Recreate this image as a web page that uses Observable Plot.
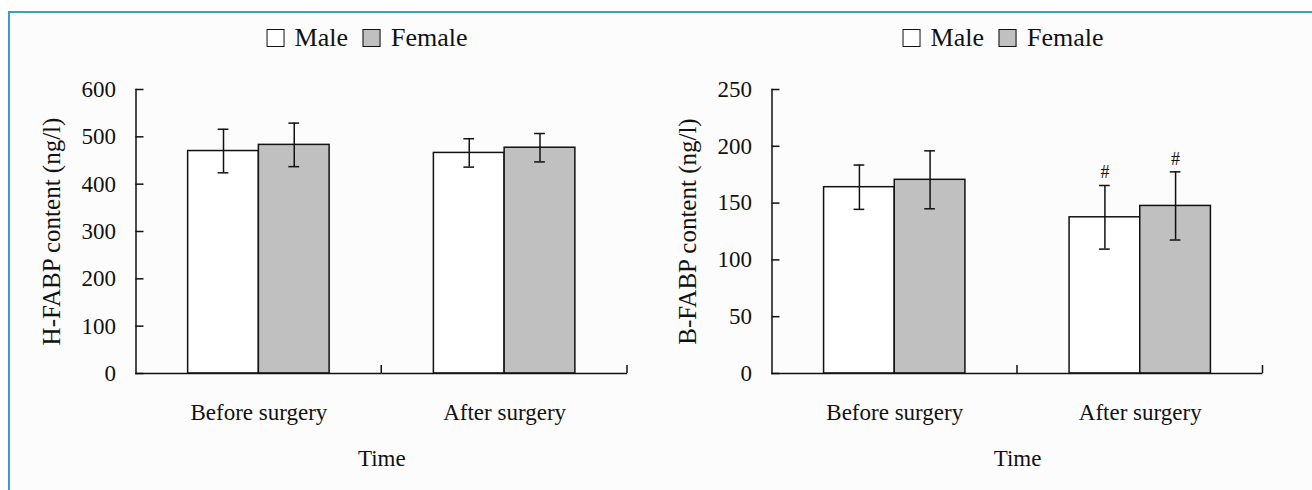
<!DOCTYPE html>
<html>
<head>
<meta charset="utf-8">
<script src="https://cdn.jsdelivr.net/npm/d3@7"></script>
<script src="https://cdn.jsdelivr.net/npm/@observablehq/plot@0.6"></script>
<style>
  html, body { margin: 0; padding: 0; background: #ffffff; }
  #page { position: relative; width: 1312px; height: 490px; overflow: hidden; background: #ffffff;
          font-family: "Liberation Serif", "Times New Roman", serif; color: #111; }
  #inner { position: absolute; left: 8px; top: 11px; right: 0; bottom: 0; background: #fcfcfc;
           border-top: 2px solid #3aa0c3; border-left: 2px solid #3aa0c3; }
  .panel { position: absolute; top: 0; width: 652px; height: 490px; }
  .legendbox { position: relative; height: 62px; }
  .legend { position: absolute; top: 23px; transform: translateX(-50%); white-space: nowrap;
            font-family: "Liberation Serif", "Times New Roman", serif;
            font-size: 26px; line-height: 30px; display: flex; align-items: center; }
  .sw { display: inline-block; box-sizing: border-box; width: 18px; height: 18px; border: 1.5px solid #111; margin-right: 10px; }
  .lab { margin-right: 15px; }
  .lab:last-child { margin-right: 0; }
  .panel svg { display: block; }
</style>
</head>
<body>
<div id="page">
  <div id="inner"></div>
  <div class="panel" id="left" style="left:0px"></div>
  <div class="panel" id="right" style="left:652px"></div>
</div>
<script>
// ---- data ----
const groups = ["Before surgery", "After surgery"];
const sexes = ["Male", "Female"];
const sexColors = ["#ffffff", "#c0c0c0"];

// order: Before-Male, Before-Female, After-Male, After-Female
const hMean = [470, 483, 466, 477];
const hErr  = [46, 46, 30, 30];
const hTicks = [0, 100, 200, 300, 400, 500, 600];

const bMean = [164, 170.5, 137.5, 147.5];
const bErr  = [19.5, 25.5, 28, 30];
const bSig  = ["", "", "#", "#"];
const bTicks = [0, 50, 100, 150, 200, 250];

function rowsOf(means, errs, sig) {
  const rows = [];
  groups.forEach((g, gi) => sexes.forEach((s, si) => {
    const i = gi * sexes.length + si;
    rows.push({group: g, sex: s, mean: means[i], lo: means[i] - errs[i], hi: means[i] + errs[i], sig: sig ? sig[i] : ""});
  }));
  return rows;
}

function legend(container, centerX) {
  const box = document.createElement("div");
  box.className = "legendbox";
  const lg = document.createElement("div");
  lg.className = "legend";
  lg.style.left = centerX + "px";
  sexes.forEach((s, i) => {
    const sw = document.createElement("span");
    sw.className = "sw";
    sw.style.background = sexColors[i];
    const t = document.createElement("span");
    t.className = "lab";
    t.textContent = s;
    lg.appendChild(sw); lg.appendChild(t);
  });
  box.appendChild(lg);
  container.appendChild(box);
}

function panel({rows, yMax, yTicks, yLabel, marginLeft, marginRight}) {
  const ink = "#111";
  return Plot.plot({
    width: 652,
    height: 428,
    marginTop: 27,
    marginBottom: 117,
    marginLeft,
    marginRight,
    style: {background: "transparent", fontFamily: "'Liberation Serif', 'Times New Roman', serif", color: ink, overflow: "visible"},
    fx: {domain: groups, padding: 0, round: false},
    x: {domain: sexes, paddingInner: 0, paddingOuter: 0.737, round: false, axis: null},
    y: {domain: [0, yMax]},
    color: {domain: sexes, range: sexColors},
    marks: [
      Plot.barY(rows, {fx: "group", x: "sex", y: "mean", fill: "sex", stroke: ink, strokeWidth: 1.5}),
      Plot.ruleX(rows, {fx: "group", x: "sex", y1: "lo", y2: "hi", stroke: ink, strokeWidth: 1.5}),
      Plot.tickY(rows, {fx: "group", x: "sex", y: "lo", stroke: ink, strokeWidth: 1.5, insetLeft: 30, insetRight: 30}),
      Plot.tickY(rows, {fx: "group", x: "sex", y: "hi", stroke: ink, strokeWidth: 1.5, insetLeft: 30, insetRight: 30}),
      Plot.text(rows, {fx: "group", x: "sex", y: "hi", text: "sig", lineAnchor: "bottom", dy: -7, fontSize: 18, fill: ink}),
      Plot.ruleY([0], {stroke: ink, strokeWidth: 1.5}),
      Plot.frame({anchor: "left", facetAnchor: "left", stroke: ink, strokeWidth: 1.5}),
      // category separator ticks on the x axis (at each facet's right edge)
      (index, scales, values, dims) => {
        const xr = dims.width - dims.marginRight;
        const yb = dims.height - dims.marginBottom;
        const g = d3.create("svg:g");
        g.append("line").attr("x1", xr).attr("x2", xr).attr("y1", yb).attr("y2", yb - 8)
          .attr("stroke", ink).attr("stroke-width", 1.5);
        return g.node();
      },
      Plot.axisY({ticks: yTicks, tickSize: -8, tickPadding: 28, strokeWidth: 1.5, stroke: ink, fill: ink, fontSize: 23, label: null}),
      Plot.axisY({ticks: [], tickSize: 0, label: yLabel, labelAnchor: "center", labelArrow: "none", labelOffset: 94, fontSize: 25, fill: ink}),
      Plot.axisFx({anchor: "bottom", tickSize: 0, tickPadding: 30, fontSize: 23, fill: ink, label: "Time", labelAnchor: "center", labelArrow: "none", labelOffset: 92})
    ]
  });
}

const left = document.getElementById("left");
legend(left, 367);
left.appendChild(panel({rows: rowsOf(hMean, hErr, null), yMax: 600, yTicks: hTicks,
  yLabel: "H-FABP content (ng/l)", marginLeft: 135.5, marginRight: 25}));

const right = document.getElementById("right");
legend(right, 351);
right.appendChild(panel({rows: rowsOf(bMean, bErr, bSig), yMax: 250, yTicks: bTicks,
  yLabel: "B-FABP content (ng/l)", marginLeft: 119.5, marginRight: 41.5}));
</script>
</body>
</html>
